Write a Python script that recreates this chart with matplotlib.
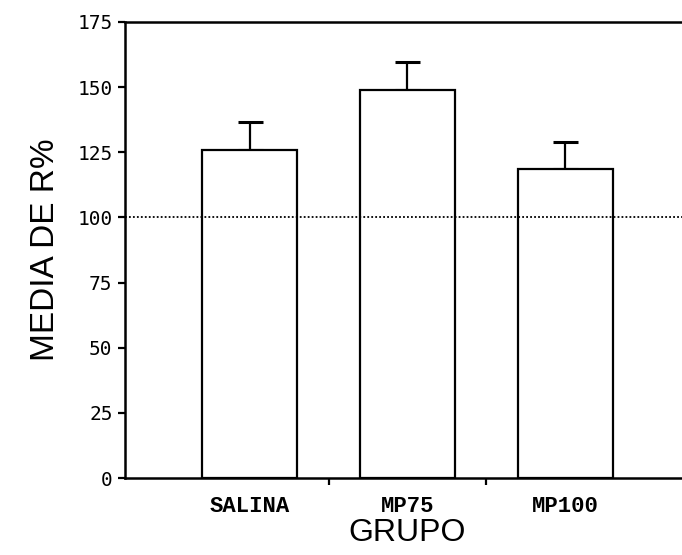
import numpy as np
import matplotlib.pyplot as plt

grupos = ['SALINA', 'MP75', 'MP100']
medias = [126, 149, 118.5]
errores = [10.5, 10.5, 10.5]
yticks = [0, 25, 50, 75, 100, 125, 150, 175]

plt.rcParams['font.family'] = ['Liberation Sans', 'DejaVu Sans']

fig = plt.figure(figsize=(6.82, 5.55), dpi=100)
ax = fig.add_axes([0.1833, 0.1387, 0.8284, 0.8217])

x = np.arange(len(grupos))
ax.bar(x, medias, width=0.6, color='white', edgecolor='black', linewidth=1.6, zorder=2)
ax.errorbar(x, medias, yerr=[np.zeros(len(errores)), errores], fmt='none',
            ecolor='black', elinewidth=1.6, capsize=9, capthick=2.2, zorder=1)
ax.axhline(100, color='black', linestyle=(0, (1, 1.2)), linewidth=1.3, zorder=3)

ax.set_xlim(-0.79, 2.79)
ax.set_ylim(0, 175)
ax.set_yticks(yticks)
ax.set_yticklabels([str(v) for v in yticks], family='DejaVu Sans Mono', fontsize=14)

# ticks between categories, labels at centers
ax.set_xticks([0.5, 1.5])
ax.set_xticklabels([])
ax.set_xticks(x, minor=True)
ax.set_xticklabels(grupos, minor=True, family='Liberation Mono', fontweight='bold', fontsize=16)
ax.tick_params(axis='x', which='minor', length=0, pad=13)
ax.tick_params(axis='x', which='major', length=5, width=1.6, direction='out')
ax.tick_params(axis='y', length=5, width=1.6, direction='out', pad=4)

for s in ['left', 'top', 'bottom']:
    ax.spines[s].set_linewidth(1.8)
ax.spines['right'].set_visible(False)

ax.set_ylabel('MEDIA DE R%', fontsize=24, labelpad=12)
ax.set_xlabel('GRUPO', fontsize=23, labelpad=1)

fig.savefig('out.png', dpi=100)
